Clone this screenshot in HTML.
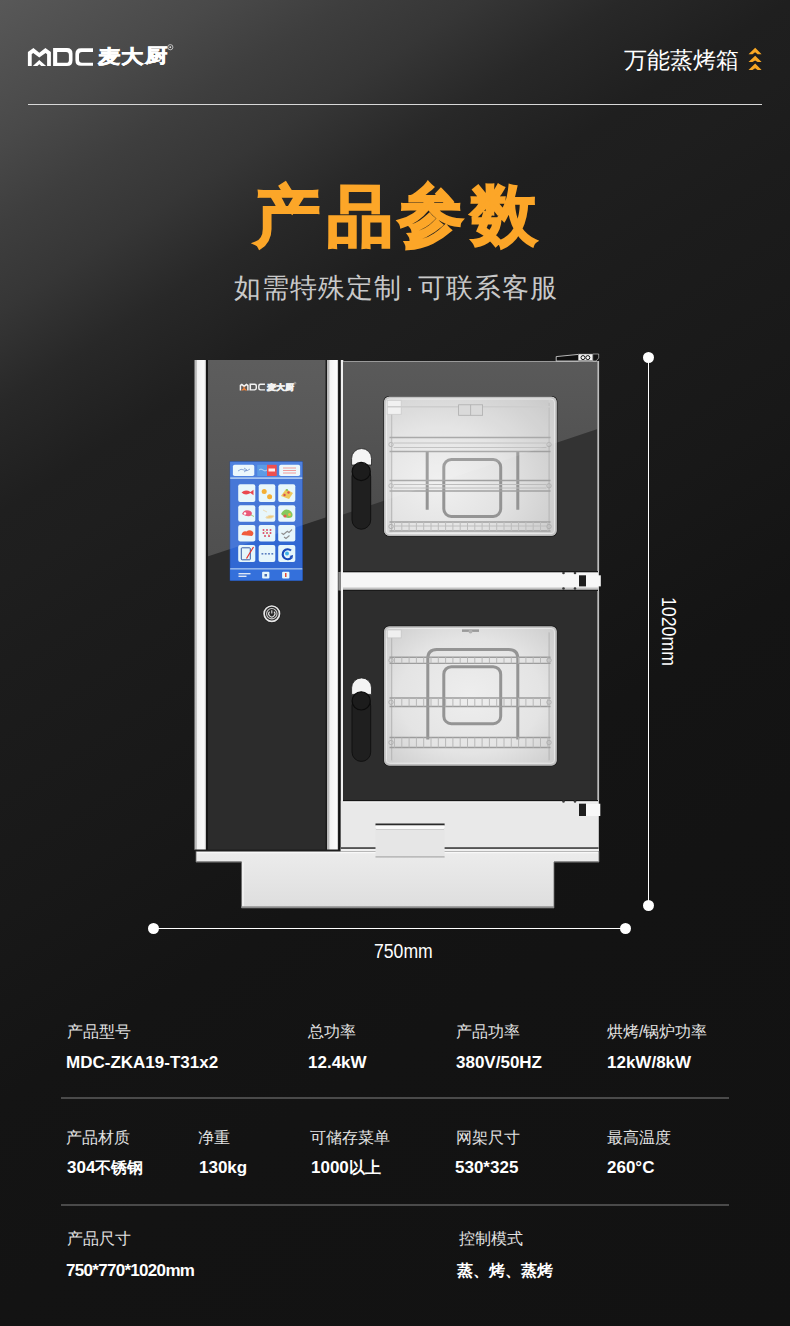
<!DOCTYPE html>
<html><head><meta charset="utf-8">
<style>
html,body{margin:0;padding:0}
html{background:#131313}
body{width:790px;height:1326px;position:relative;overflow:hidden;font-family:"Liberation Sans",sans-serif;
background:#151515;}
.bg{position:absolute;left:0;top:0;width:790px;height:1326px;
background:linear-gradient(147deg,#585858 0px,#494949 120px,#3e3e3e 190px,#363636 260px,#282828 340px,#1f1f1f 430px,#1e1e1e 490px,#1c1c1c 560px,#181818 770px,#141414 925px,#131313 1100px,#121212 1543px);}
.abs{position:absolute;white-space:nowrap}
.hline{position:absolute;height:2px;background:#d8d8d8}
.title{font-size:66px;line-height:66px;font-weight:bold;color:#fca628;-webkit-text-stroke:2px #fca628}
.sub{left:234px;top:270px;font-size:27px;letter-spacing:1px;color:#c9c9c9}
.lab{font-size:16px;line-height:20px;color:#e2e2e2}
.val{font-size:17px;line-height:20px;font-weight:bold;color:#fff}
.cj{font-size:15.5px}
.sep{position:absolute;left:61px;width:668px;height:2px;background:#4a4a4a}
.lg{font-size:22px;line-height:22px;font-weight:bold;color:#fff;transform:scaleY(0.85);transform-origin:0 0;-webkit-text-stroke:0.7px #fff}
.dot{position:absolute;width:11px;height:11px;border-radius:50%;background:#fff}
</style></head>
<body>
<div class="bg"></div>

<!-- header logo -->
<svg class="abs" style="left:0;top:0" width="200" height="80" viewBox="0 0 200 80">
  <g fill="#fff" fill-rule="evenodd">
    <path d="M27.9 66 L27.9 52 L33.4 48.1 L39.3 52.8 L45.4 48.1 L50.9 52 L50.9 66 L47.1 66 L47.1 54.2 L45.6 53 L39.3 57.4 L33.2 53 L31.7 54.2 L31.7 66 Z"/>
    <path d="M32.8 66 L39.3 60 L46.1 66 L41.2 66 L39.3 64.3 L37.4 66 Z"/>
    <path d="M53.1 48.1 H67 Q72.5 48.1 72.5 53.6 V60.5 Q72.5 66 67 66 H53.1 Z M57.2 52 H66 Q68.9 52 68.9 54.9 V59.9 Q68.9 62.8 66 62.8 H57.2 Z"/>
    <path d="M93 48.2 H81 Q75.4 48.2 75.4 53.8 V60.2 Q75.4 65.8 81 65.8 H93 V62.7 H82 Q79 62.7 79 59.7 V55.1 Q79 52.1 82 52.1 H93 Z"/>
  </g>
</svg>
<div class="abs lg" style="left:98.3px;top:47.8px">麦</div>
<div class="abs lg" style="left:121.2px;top:47.8px">大</div>
<div class="abs lg" style="left:145.2px;top:47.3px">厨</div>
<svg class="abs" style="left:166px;top:43px" width="9" height="9" viewBox="0 0 9 9"><circle cx="4.3" cy="4.2" r="2.6" fill="none" stroke="#ddd" stroke-width="0.8"/><circle cx="4.3" cy="4.2" r="0.9" fill="#ddd"/></svg>
<div class="abs" style="left:624px;top:45px;font-size:23px;color:#fff">万能蒸烤箱</div>
<svg class="abs" style="left:740px;top:40px" width="30" height="36" viewBox="740 40 30 36">
  <g fill="#f9a825">
    <path d="M748.5 54.2 L755.2 47.7 L761.6 54.2 L757.6 54.2 L755.1 52.3 L752.5 54.2 Z"/>
    <path d="M748.5 62 L755.2 55.7 L761.6 62 L757.6 62 L755.1 60.4 L752.5 62 Z"/>
    <path d="M748.5 70.1 L755.2 63.6 L761.6 70.1 L757.6 70.1 L755.1 68.2 L752.5 70.1 Z"/>
  </g>
</svg>
<div class="hline" style="left:28px;top:103.5px;width:734px;height:1.5px"></div>

<!-- title -->
<div class="abs title" style="left:254px;top:183.3px">产</div>
<div class="abs title" style="left:327.1px;top:182.6px">品</div>
<div class="abs title" style="left:398.1px;top:181.6px">参</div>
<div class="abs title" style="left:470.8px;top:181.5px">数</div>
<div class="abs sub">如需特殊定制<span style="margin:0 3px">·</span>可联系客服</div>

<!-- OVEN -->
<!--OVEN--><svg class="abs" style="left:0;top:0" width="790" height="1000" viewBox="0 0 790 1000">
<defs>
  <linearGradient id="steelV" x1="0" y1="0" x2="1" y2="0">
    <stop offset="0" stop-color="#b9b9b9"/><stop offset="0.16" stop-color="#bcbcbc"/><stop offset="0.26" stop-color="#f2f2f2"/><stop offset="0.85" stop-color="#fbfbfb"/><stop offset="1" stop-color="#b0b0b0"/>
  </linearGradient>
  <linearGradient id="panelG" x1="0" y1="0" x2="0" y2="1">
    <stop offset="0" stop-color="#5d5d5d"/><stop offset="1" stop-color="#4f4f4f"/>
  </linearGradient>
  <linearGradient id="doorG" x1="0" y1="0" x2="0" y2="1">
    <stop offset="0" stop-color="#5a5a5a"/><stop offset="1" stop-color="#4c4c4c"/>
  </linearGradient>
  <radialGradient id="winGU" cx="0.32" cy="0.62" r="0.85">
    <stop offset="0" stop-color="#f0f0f0"/><stop offset="0.45" stop-color="#e3e3e3"/><stop offset="1" stop-color="#c6c6c6"/>
  </radialGradient>
  <radialGradient id="winGL" cx="0.5" cy="0.5" r="0.75">
    <stop offset="0" stop-color="#eeeeee"/><stop offset="0.55" stop-color="#e4e4e4"/><stop offset="1" stop-color="#c8c8c8"/>
  </radialGradient>
  <linearGradient id="baseG" x1="0" y1="0" x2="0" y2="1">
    <stop offset="0" stop-color="#ececec"/><stop offset="1" stop-color="#dedede"/>
  </linearGradient>
  <clipPath id="panelClip"><rect x="206" y="360" width="121" height="490"/></clipPath>
  <clipPath id="doorClip"><rect x="343" y="361.5" width="254.5" height="210"/></clipPath>
</defs>

<!-- base -->
<path d="M196 851 H599 V862 H554 V908 H241.5 V862 H196 Z" fill="url(#baseG)" stroke="#6a6a6a" stroke-width="0.8"/>
<rect x="197" y="852" width="401" height="1.2" fill="#f8f8f8"/>
<rect x="242.5" y="862.5" width="1.2" height="44.5" fill="#f6f6f6"/>
<rect x="241.5" y="906.3" width="312.5" height="1.7" fill="#8a8a8a"/>
<rect x="196" y="861" width="45.5" height="1.2" fill="#8e8e8e"/>
<rect x="554" y="861" width="45" height="1.2" fill="#8e8e8e"/>

<!-- left steel strip -->
<rect x="194.5" y="360" width="11.5" height="490" fill="url(#steelV)"/>
<!-- control panel -->
<g clip-path="url(#panelClip)">
  <rect x="206" y="360" width="121" height="490" fill="#2c2c2c"/>
  <polygon points="206,360 327,360 327,517 206,557" fill="url(#panelG)"/>
</g>
<rect x="206" y="360" width="2" height="490" fill="#161616"/>
<rect x="325.5" y="360" width="1.5" height="490" fill="#1c1c1c"/>
<!-- right steel strip -->
<rect x="327" y="360" width="11.3" height="490" fill="url(#steelV)"/>
<rect x="338.3" y="360" width="2.5" height="490" fill="#111"/>
<rect x="340.8" y="360" width="2.5" height="490" fill="#f0f0f0"/>
<rect x="194.5" y="849.5" width="146" height="1.8" fill="#1e1e1e"/>

<!-- upper door -->
<g clip-path="url(#doorClip)">
  <rect x="343" y="361.5" width="254.5" height="210" fill="#333"/>
  <polygon points="343,361.5 597.5,361.5 597.5,429 343,514.5" fill="url(#doorG)"/>
</g>
<rect x="343" y="361" width="254.5" height="1" fill="#9a9a9a"/>
<rect x="597.3" y="361" width="1.8" height="211" fill="#bdbdbd"/>

<!-- middle strip -->
<rect x="340.8" y="571.5" width="258" height="19.5" fill="#f6f6f6"/>
<rect x="343" y="571" width="255" height="1.3" fill="#161616"/>
<rect x="343" y="587.5" width="256" height="2.2" fill="#c4c4c4"/>
<rect x="343" y="589.7" width="255" height="1.5" fill="#1a1a1a"/>
<g fill="#3a3a3a"><circle cx="563.5" cy="573" r="1.3"/><circle cx="575" cy="573" r="1.3"/><circle cx="563.5" cy="588.5" r="1.3"/><circle cx="575" cy="588.5" r="1.3"/></g>

<!-- lower door -->
<rect x="343" y="591" width="254.5" height="209.5" fill="#2d2d2d"/>
<rect x="597.3" y="591" width="1.8" height="210" fill="#bdbdbd"/>

<!-- front lower steel panel -->
<rect x="340.8" y="800.5" width="258" height="50.5" fill="#e9e9e9"/>
<rect x="343" y="800" width="255" height="1.4" fill="#161616"/>
<rect x="343" y="801.4" width="255" height="1.2" fill="#f4f4f4"/>
<g fill="#3a3a3a"><circle cx="563.5" cy="801.5" r="1.3"/><circle cx="575" cy="801.5" r="1.3"/></g>
<rect x="341" y="847.3" width="257.5" height="1.9" fill="#2e2e2e"/>
<rect x="340.8" y="848.8" width="258" height="2.2" fill="#f0f0f0"/>
<rect x="338.3" y="572" width="2.5" height="18.5" fill="#8a8a8a"/>
<!-- drawer -->
<rect x="375.5" y="824" width="69.1" height="33.3" rx="1" fill="#e6e6e6"/>
<rect x="375.5" y="823.5" width="69.1" height="2" fill="#2a2a2a"/>
<path d="M375.5 825.5 H444.6 V827.5 L443.6 829 H376.5 L375.5 827.5 Z" fill="#fafafa"/>
<rect x="376" y="829" width="68" height="0.8" fill="#c9c9c9"/>
<rect x="375.5" y="856.3" width="69.1" height="1.2" fill="#a9a9a9"/>

<!-- hinges -->
<path d="M556.2 361 L556.2 356.6 L578.5 354.4 L578.5 361 Z" fill="#0e0e0e" stroke="#e0e0e0" stroke-width="0.8"/>
<rect x="578.5" y="354" width="14.2" height="6.8" fill="#f2f2f2" stroke="#777" stroke-width="0.5"/>
<circle cx="583" cy="357.6" r="2" fill="#f6f6f6" stroke="#111" stroke-width="1"/>
<circle cx="587.8" cy="357.6" r="2" fill="#f6f6f6" stroke="#111" stroke-width="1"/>
<path d="M592.7 354 L598.7 354 L598.7 358 L596 361 L592.7 361 Z" fill="#111" stroke="#ddd" stroke-width="0.6"/>
<rect x="579" y="575.3" width="7" height="11.1" fill="#1e1e1e"/>
<rect x="586" y="575.3" width="14.8" height="11.1" fill="#f8f8f8"/>
<rect x="579" y="803.7" width="7" height="12.3" fill="#1e1e1e"/>
<rect x="586" y="803.7" width="14.3" height="12.3" fill="#f8f8f8"/>

<!-- handles -->
<g id="handleU">
  <path d="M351.6 465 V458.5 A9.95 9.95 0 0 1 371.5 458.5 V465 Z" fill="#f4f4f4" stroke="#222" stroke-width="0.8"/>
  <rect x="352" y="467" width="18.7" height="62.2" rx="9.3" fill="#1f1f1f" stroke="#101010" stroke-width="1"/>
  <circle cx="361.2" cy="471.5" r="9.1" fill="#1c1c1c" stroke="#0c0c0c" stroke-width="1.2"/>
</g>
<g transform="translate(0,229.4)">
  <path d="M351.6 465 V458.5 A9.95 9.95 0 0 1 371.5 458.5 V465 Z" fill="#f4f4f4" stroke="#222" stroke-width="0.8"/>
  <rect x="352" y="467" width="18.7" height="65" rx="9.3" fill="#1f1f1f" stroke="#101010" stroke-width="1"/>
  <circle cx="361.2" cy="471.5" r="9.1" fill="#1c1c1c" stroke="#0c0c0c" stroke-width="1.2"/>
</g>

<!-- windows -->
<rect x="383.4" y="396.0" width="174.0" height="140.6" rx="5.5" fill="#1a1a1a"/>
<rect x="384.2" y="396.8" width="172.4" height="139" rx="5" fill="url(#winGU)"/>
<rect x="384.9" y="397.5" width="171.0" height="137.6" rx="4.5" fill="none" stroke="#bdbdbd" stroke-width="1.4"/>
<rect x="386.4" y="399.0" width="168.0" height="134.6" rx="3.5" fill="none" stroke="#f2f2f2" stroke-width="0.9" opacity="0.8"/>
<rect x="387.2" y="399.8" width="5" height="133" fill="#d4d4d4" opacity="0.5"/>
<rect x="548.6" y="399.8" width="5" height="133" fill="#cfcfcf" opacity="0.5"/>
<line x1="391.7" y1="402.8" x2="391.7" y2="530.8" stroke="#b4b4b4" stroke-width="1"/>
<line x1="549.1" y1="402.8" x2="549.1" y2="530.8" stroke="#b4b4b4" stroke-width="1"/>
<rect x="387.2" y="400.3" width="14" height="14" fill="#f0f0f0" stroke="#c6c6c6" stroke-width="0.8"/>
<line x1="387.2" y1="406.8" x2="550.6" y2="406.8" stroke="#c8c8c8" stroke-width="1.4"/>
<rect x="458.6" y="404.8" width="24" height="10.5" fill="#d6d6d6" stroke="#a5a5a5" stroke-width="0.8"/>
<line x1="470.6" y1="404.8" x2="470.6" y2="415.3" stroke="#a5a5a5" stroke-width="0.8"/>
<path d="M427.2 509.79999999999995 V451.5 M517.8 451.5 V509.79999999999995" stroke="#949494" stroke-width="3" fill="none"/>
<rect x="443.8" y="459.5" width="56.9" height="57" rx="7.5" fill="none" stroke="#949494" stroke-width="3"/>
<line x1="389.5" y1="437.5" x2="550.5" y2="437.5" stroke="#a0a0a0" stroke-width="1.5"/>
<line x1="389.5" y1="451.5" x2="550.5" y2="451.5" stroke="#a0a0a0" stroke-width="1.3"/>
<line x1="393.5" y1="443.0" x2="546.5" y2="443.0" stroke="#bcbcbc" stroke-width="1"/>
<line x1="393.5" y1="447.5" x2="546.5" y2="447.5" stroke="#bcbcbc" stroke-width="1"/>
<circle cx="391.0" cy="444.5" r="2.2" fill="none" stroke="#b0b0b0" stroke-width="1"/>
<circle cx="549.0" cy="444.5" r="2.2" fill="none" stroke="#b0b0b0" stroke-width="1"/>
<line x1="389.5" y1="480.5" x2="550.5" y2="480.5" stroke="#a0a0a0" stroke-width="1.5"/>
<line x1="389.5" y1="491.0" x2="550.5" y2="491.0" stroke="#a0a0a0" stroke-width="1.3"/>
<line x1="393.5" y1="484.5" x2="546.5" y2="484.5" stroke="#bcbcbc" stroke-width="1"/>
<line x1="393.5" y1="488.0" x2="546.5" y2="488.0" stroke="#bcbcbc" stroke-width="1"/>
<circle cx="391.0" cy="485.8" r="2.2" fill="none" stroke="#b0b0b0" stroke-width="1"/>
<circle cx="549.0" cy="485.8" r="2.2" fill="none" stroke="#b0b0b0" stroke-width="1"/>
<line x1="389.5" y1="522" x2="550.5" y2="522" stroke="#a0a0a0" stroke-width="1.5"/>
<line x1="389.5" y1="531" x2="550.5" y2="531" stroke="#a0a0a0" stroke-width="1.3"/>
<line x1="393.5" y1="526" x2="546.5" y2="526" stroke="#bcbcbc" stroke-width="1"/>
<path d="M394.5 522 V531 M401.8 522 V531 M409.1 522 V531 M416.4 522 V531 M423.7 522 V531 M431.0 522 V531 M438.3 522 V531 M445.6 522 V531 M452.9 522 V531 M460.2 522 V531 M467.5 522 V531 M474.8 522 V531 M482.1 522 V531 M489.4 522 V531 M496.7 522 V531 M504.0 522 V531 M511.3 522 V531 M518.6 522 V531 M525.9 522 V531 M533.2 522 V531 M540.5 522 V531 M547.8 522 V531" stroke="#bcbcbc" stroke-width="1"/>
<circle cx="391.0" cy="526.5" r="2.2" fill="none" stroke="#b0b0b0" stroke-width="1"/>
<circle cx="549.0" cy="526.5" r="2.2" fill="none" stroke="#b0b0b0" stroke-width="1"/>
<clipPath id="winUClip"><rect x="384.2" y="396.8" width="172.4" height="139" rx="5"/></clipPath>
<polygon points="343,361.5 597.5,361.5 597.5,429 343,514.5" fill="#ffffff" opacity="0.10" clip-path="url(#winUClip)"/>
<rect x="383.4" y="625.6" width="174.0" height="140.6" rx="5.5" fill="#1a1a1a"/>
<rect x="384.2" y="626.4" width="172.4" height="139" rx="5" fill="url(#winGL)"/>
<rect x="384.9" y="627.1" width="171.0" height="137.6" rx="4.5" fill="none" stroke="#bdbdbd" stroke-width="1.4"/>
<rect x="386.4" y="628.6" width="168.0" height="134.6" rx="3.5" fill="none" stroke="#f2f2f2" stroke-width="0.9" opacity="0.8"/>
<rect x="387.2" y="629.4" width="5" height="133" fill="#d4d4d4" opacity="0.5"/>
<rect x="548.6" y="629.4" width="5" height="133" fill="#cfcfcf" opacity="0.5"/>
<line x1="391.7" y1="632.4" x2="391.7" y2="760.4" stroke="#b4b4b4" stroke-width="1"/>
<line x1="549.1" y1="632.4" x2="549.1" y2="760.4" stroke="#b4b4b4" stroke-width="1"/>
<rect x="387.2" y="629.9" width="14" height="8" fill="#f0f0f0" stroke="#c6c6c6" stroke-width="0.8"/>
<rect x="462" y="629.4" width="17" height="2.5" fill="#9a9a9a"/>
<circle cx="470.5" cy="631.4" r="2" fill="#b0b0b0"/>
<path d="M427.8 739.4 V658.6 Q427.8 649.6 436.8 649.6 H508.8 Q517.8 649.6 517.8 658.6 V739.4" stroke="#949494" stroke-width="3" fill="none"/>
<rect x="443.8" y="666.6999999999999" width="56.9" height="57" rx="7.5" fill="none" stroke="#949494" stroke-width="3"/>
<line x1="389.5" y1="657.3" x2="550.5" y2="657.3" stroke="#9c9c9c" stroke-width="1.5"/>
<line x1="389.5" y1="663.3" x2="550.5" y2="663.3" stroke="#9c9c9c" stroke-width="1.3"/>
<path d="M394.5 657.3 V663.3 M401.8 657.3 V663.3 M409.1 657.3 V663.3 M416.4 657.3 V663.3 M423.7 657.3 V663.3 M431.0 657.3 V663.3 M438.3 657.3 V663.3 M445.6 657.3 V663.3 M452.9 657.3 V663.3 M460.2 657.3 V663.3 M467.5 657.3 V663.3 M474.8 657.3 V663.3 M482.1 657.3 V663.3 M489.4 657.3 V663.3 M496.7 657.3 V663.3 M504.0 657.3 V663.3 M511.3 657.3 V663.3 M518.6 657.3 V663.3 M525.9 657.3 V663.3 M533.2 657.3 V663.3 M540.5 657.3 V663.3 M547.8 657.3 V663.3" stroke="#b8b8b8" stroke-width="1"/>
<circle cx="391.0" cy="660.3" r="2.2" fill="none" stroke="#b0b0b0" stroke-width="1"/>
<circle cx="549.0" cy="660.3" r="2.2" fill="none" stroke="#b0b0b0" stroke-width="1"/>
<line x1="389.5" y1="698" x2="550.5" y2="698" stroke="#9c9c9c" stroke-width="1.5"/>
<line x1="389.5" y1="706.5" x2="550.5" y2="706.5" stroke="#9c9c9c" stroke-width="1.3"/>
<path d="M394.5 698 V706.5 M401.8 698 V706.5 M409.1 698 V706.5 M416.4 698 V706.5 M423.7 698 V706.5 M431.0 698 V706.5 M438.3 698 V706.5 M445.6 698 V706.5 M452.9 698 V706.5 M460.2 698 V706.5 M467.5 698 V706.5 M474.8 698 V706.5 M482.1 698 V706.5 M489.4 698 V706.5 M496.7 698 V706.5 M504.0 698 V706.5 M511.3 698 V706.5 M518.6 698 V706.5 M525.9 698 V706.5 M533.2 698 V706.5 M540.5 698 V706.5 M547.8 698 V706.5" stroke="#b8b8b8" stroke-width="1"/>
<circle cx="391.0" cy="702.2" r="2.2" fill="none" stroke="#b0b0b0" stroke-width="1"/>
<circle cx="549.0" cy="702.2" r="2.2" fill="none" stroke="#b0b0b0" stroke-width="1"/>
<line x1="389.5" y1="737.5" x2="550.5" y2="737.5" stroke="#9c9c9c" stroke-width="1.5"/>
<line x1="389.5" y1="747.5" x2="550.5" y2="747.5" stroke="#9c9c9c" stroke-width="1.3"/>
<path d="M394.5 737.5 V747.5 M401.8 737.5 V747.5 M409.1 737.5 V747.5 M416.4 737.5 V747.5 M423.7 737.5 V747.5 M431.0 737.5 V747.5 M438.3 737.5 V747.5 M445.6 737.5 V747.5 M452.9 737.5 V747.5 M460.2 737.5 V747.5 M467.5 737.5 V747.5 M474.8 737.5 V747.5 M482.1 737.5 V747.5 M489.4 737.5 V747.5 M496.7 737.5 V747.5 M504.0 737.5 V747.5 M511.3 737.5 V747.5 M518.6 737.5 V747.5 M525.9 737.5 V747.5 M533.2 737.5 V747.5 M540.5 737.5 V747.5 M547.8 737.5 V747.5" stroke="#b8b8b8" stroke-width="1"/>
<circle cx="391.0" cy="742.5" r="2.2" fill="none" stroke="#b0b0b0" stroke-width="1"/>
<circle cx="549.0" cy="742.5" r="2.2" fill="none" stroke="#b0b0b0" stroke-width="1"/>
<!-- control panel details -->
<!-- small logo -->
<g transform="translate(228.87,364.88) scale(0.388)">
  <g fill="#f2f2f2" fill-rule="evenodd">
    <path d="M27.9 66 L27.9 52 L33.4 48.1 L39.3 52.8 L45.4 48.1 L50.9 52 L50.9 66 L47.1 66 L47.1 54.2 L45.6 53 L39.3 57.4 L33.2 53 L31.7 54.2 L31.7 66 Z"/>
    <path d="M31.7 66 L39.3 58.5 L47.1 66 L41.2 66 L39.3 64.3 L37.4 66 Z" fill="#f0823a"/><path d="M33.5 54 L39.3 57.5 L45.2 54 L39.3 60 Z" fill="#f0823a"/>
    <path d="M53.1 48.1 H67 Q72.5 48.1 72.5 53.6 V60.5 Q72.5 66 67 66 H53.1 Z M57.2 52 H66 Q68.9 52 68.9 54.9 V59.9 Q68.9 62.8 66 62.8 H57.2 Z"/>
    <path d="M93 48.2 H81 Q75.4 48.2 75.4 53.8 V60.2 Q75.4 65.8 81 65.8 H93 V62.7 H82 Q79 62.7 79 59.7 V55.1 Q79 52.1 82 52.1 H93 Z"/>
  </g>
  <text x="98" y="65.5" font-size="21" font-weight="bold" fill="#f2f2f2" stroke="#f2f2f2" stroke-width="1.6" textLength="69" lengthAdjust="spacingAndGlyphs" font-family="Liberation Sans, sans-serif">麦大厨</text>
  <circle cx="170.3" cy="47.2" r="2.6" fill="none" stroke="#ddd" stroke-width="1"/>
</g>
<!-- touch screen -->
<rect x="229.6" y="461.2" width="73.3" height="119.6" fill="#1f3f86"/>
<rect x="230.2" y="461.8" width="72.1" height="118.6" fill="#3168d3"/>
<rect x="230.2" y="461.8" width="72.1" height="15.5" fill="#3a73dc"/>
<rect x="230.2" y="477.3" width="72.1" height="1.6" fill="#a9c8f2"/>
<rect x="230.2" y="568.2" width="72.1" height="1.5" fill="#a9c8f2"/>
<rect x="230.2" y="569.7" width="72.1" height="10.7" fill="#3470db"/>
<g fill="#eaf7fc">
  <rect x="232.9" y="464.8" width="21.4" height="11.2" rx="1.8"/>
  <rect x="279.2" y="464.8" width="20.9" height="11.2" rx="1.8"/>
</g>
<rect x="257.2" y="464.8" width="9.8" height="11.2" fill="#4a90e2"/>
<rect x="267" y="464.8" width="9.7" height="11.2" fill="#ee3b3b"/>
<path d="M238 471 q3 -3 6 -1 q3 2 6 -1 M244 468 l3 2 l-3 2" stroke="#6a8ccc" stroke-width="0.8" fill="none"/>
<path d="M259 470 q2 -2 4 0 q2 2 4 0" stroke="#d8ecff" stroke-width="0.7" fill="none"/>
<rect x="268.5" y="468.5" width="6.5" height="3" fill="#fff" opacity="0.9"/>
<g stroke="#f09090" stroke-width="1" fill="none"><path d="M283 468 h13 M283 470.5 h13 M283 473 h13"/></g>
<g fill="#e6f6fb">
  <rect x="238.2" y="484.3" width="17.1" height="17.6" rx="2"/>
  <rect x="258.7" y="484.3" width="16.6" height="17.6" rx="2"/>
  <rect x="278.2" y="484.3" width="17.1" height="17.6" rx="2"/>
  <rect x="238.2" y="505.3" width="17.1" height="16.5" rx="2"/>
  <rect x="258.7" y="505.3" width="16.6" height="16.5" rx="2"/>
  <rect x="278.2" y="505.3" width="17.1" height="16.5" rx="2"/>
  <rect x="238.2" y="524.9" width="17.1" height="16.5" rx="2"/>
  <rect x="258.7" y="524.9" width="16.6" height="16.5" rx="2"/>
  <rect x="278.2" y="524.9" width="17.1" height="16.5" rx="2"/>
  <rect x="238.2" y="544.9" width="17.1" height="17" rx="2"/>
  <rect x="258.7" y="544.9" width="16.6" height="17" rx="2"/>
  <rect x="278.2" y="544.9" width="17.1" height="17" rx="2"/>
  <rect x="262.1" y="571.7" width="7.3" height="6.8" rx="1"/>
  <rect x="282.1" y="571.7" width="7.3" height="6.8" rx="1"/>
</g>
<!-- tile icons -->
<g>
  <path d="M241.5 492.5 q4 -3.5 9 -0.5 l3 -2.2 v5.4 l-3 -2.2 q-5 3 -9 -0.5 z" fill="#e8343a"/>
  <circle cx="264.2" cy="491.4" r="2.5" fill="#f3a61c"/><circle cx="269.6" cy="496.8" r="2.5" fill="#f3a61c"/>
  <path d="M281 496 l5 -7 l7 4 l-4 6 z" fill="#ecc24a"/><circle cx="284.5" cy="495" r="1.2" fill="#d63b3b"/><circle cx="288.5" cy="492.5" r="1.2" fill="#d63b3b"/><circle cx="287" cy="490" r="0.9" fill="#5fb848"/>
  <path d="M242 514 q2 -5 7 -3.5 q4 1 2.5 4.5 q-3 3 -9.5 -1z" fill="#e8486a"/><circle cx="245" cy="513.5" r="1.2" fill="#fff"/><path d="M251 515 l3 1.5" stroke="#7cbf4a" stroke-width="0.8"/>
  <path d="M263 510 l4 2 M266 517 q4 -3 8 -1 q-1 3 -8 2z" stroke="#e9d9b0" stroke-width="1" fill="#edc46a"/>
  <path d="M281 514 q3 -6 8 -4 q5 3 3 7 q-5 3 -11 -3z" fill="#78c24a"/><circle cx="285" cy="516" r="1.6" fill="#e34a3a"/><circle cx="289.5" cy="514.5" r="1.5" fill="#f2b134"/>
  <path d="M241.5 535 q1 -4.5 5 -3.5 q3 -2.5 6 0 q2 2 -0.5 4.5 z" fill="#ef4b26"/>
  <g fill="#d63a55"><circle cx="263.5" cy="530" r="1"/><circle cx="267" cy="530" r="1"/><circle cx="270.5" cy="530" r="1"/><circle cx="263.5" cy="533" r="1"/><circle cx="267" cy="533" r="1"/><circle cx="270.5" cy="533" r="1"/><circle cx="265" cy="536" r="1"/><circle cx="269" cy="536" r="1"/></g>
  <g fill="#e8c43a"><circle cx="265.2" cy="531.5" r="0.6"/><circle cx="268.8" cy="534.5" r="0.6"/></g>
  <path d="M281.5 533 l2 1.5 l3.5 -3 M284 537 l2 1.5 l3.5 -3 M287 531 l2 1.5 l3 -3" stroke="#8f8f8f" stroke-width="1.1" fill="none"/>
  <rect x="241.3" y="547.8" width="9" height="12" rx="0.8" fill="none" stroke="#24489a" stroke-width="0.9"/>
  <path d="M246.5 558.5 L253.5 547" stroke="#e8302a" stroke-width="1.2"/>
  <g fill="#5a7fc0"><rect x="261.5" y="553" width="1.8" height="1.6"/><rect x="264.8" y="553" width="1.8" height="1.6"/><rect x="268.1" y="553" width="1.8" height="1.6"/><rect x="271.4" y="553" width="1.8" height="1.6"/></g>
  <path d="M291 550.5 A5 5 0 1 0 291.5 557.5" stroke="#1848b8" stroke-width="2.2" fill="none"/>
  <path d="M289.5 556 l3 2.5 l0.5 -3.5z" fill="#1848b8"/>
  <circle cx="287" cy="553.5" r="2" fill="#3fb0e8"/>
  <g fill="#dde6f6"><rect x="238.5" y="573" width="12" height="1.4"/><rect x="238.5" y="575.6" width="8" height="1.4"/></g>
  <rect x="264.5" y="574" width="2.5" height="2.5" fill="#4a6fb0"/>
  <rect x="285" y="573" width="1.5" height="4" fill="#e34a3a"/>
</g>
<!-- glass reflection over the screen -->
<clipPath id="scrClip"><rect x="229.6" y="461.2" width="73.3" height="119.6"/></clipPath>
<polygon points="206,557 327,517 327,360 206,360" fill="#ffffff" opacity="0.10" clip-path="url(#scrClip)"/>
<!-- power button -->
<circle cx="271.8" cy="613.7" r="9.2" fill="#1c1c1c"/>
<circle cx="271.8" cy="613.7" r="7.7" fill="#2a2a2a" stroke="#e6e6e6" stroke-width="1.7"/>
<circle cx="271.8" cy="613.7" r="5.2" fill="none" stroke="#cdcdcd" stroke-width="1.1"/>
<path d="M269.6 611.6 A3.1 3.1 0 1 0 274 611.6" fill="none" stroke="#e2e2e2" stroke-width="1.1"/>
<path d="M271.8 610.3 V613.6" stroke="#e2e2e2" stroke-width="1.1"/>
</svg>
<!--/OVEN-->

<!-- dimension lines -->
<div class="abs" style="left:647.8px;top:357px;width:1.5px;height:549px;background:#fff"></div>
<div class="dot" style="left:643px;top:351.8px"></div>
<div class="dot" style="left:643px;top:900.3px"></div>
<div class="abs" style="left:153px;top:927.8px;width:472px;height:1.6px;background:#fff"></div>
<div class="dot" style="left:147.7px;top:923px"></div>
<div class="dot" style="left:619.5px;top:922.7px"></div>
<div class="abs" style="left:373.5px;top:938.5px;font-size:20.5px;line-height:24px;color:#fff;transform:scaleX(0.86);transform-origin:0 0">750mm</div>
<div class="abs" style="left:681px;top:597px;font-size:20.5px;line-height:24px;color:#fff;transform:rotate(90deg) scaleX(0.865);transform-origin:0 0">1020mm</div>

<!-- table -->
<div class="abs lab" style="left:67px;top:1022px">产品型号</div>
<div class="abs val" style="left:66px;top:1052.5px">MDC-ZKA19-T31x2</div>
<div class="abs lab" style="left:308px;top:1022px">总功率</div>
<div class="abs val" style="left:308px;top:1052.5px">12.4kW</div>
<div class="abs lab" style="left:456px;top:1022px">产品功率</div>
<div class="abs val" style="left:456px;top:1052.5px">380V/50HZ</div>
<div class="abs lab" style="left:607px;top:1022px">烘烤/锅炉功率</div>
<div class="abs val" style="left:607px;top:1052.5px">12kW/8kW</div>
<div class="sep" style="top:1096.5px"></div>

<div class="abs lab" style="left:66px;top:1128px">产品材质</div>
<div class="abs val" style="left:67px;top:1158px">304<span class="cj">不锈钢</span></div>
<div class="abs lab" style="left:198px;top:1128px">净重</div>
<div class="abs val" style="left:199px;top:1158px">130kg</div>
<div class="abs lab" style="left:310px;top:1128px">可储存菜单</div>
<div class="abs val" style="left:311px;top:1158px">1000<span class="cj">以上</span></div>
<div class="abs lab" style="left:456px;top:1128px">网架尺寸</div>
<div class="abs val" style="left:455px;top:1158px">530*325</div>
<div class="abs lab" style="left:607px;top:1128px">最高温度</div>
<div class="abs val" style="left:607px;top:1158px">260°C</div>
<div class="sep" style="top:1203.5px"></div>

<div class="abs lab" style="left:67px;top:1228.5px">产品尺寸</div>
<div class="abs val" style="left:66px;top:1260.5px;letter-spacing:-0.7px">750*770*1020mm</div>
<div class="abs lab" style="left:459px;top:1228.5px">控制模式</div>
<div class="abs val" style="left:457px;top:1260.5px"><span class="cj">蒸、烤、蒸烤</span></div>
</body></html>
